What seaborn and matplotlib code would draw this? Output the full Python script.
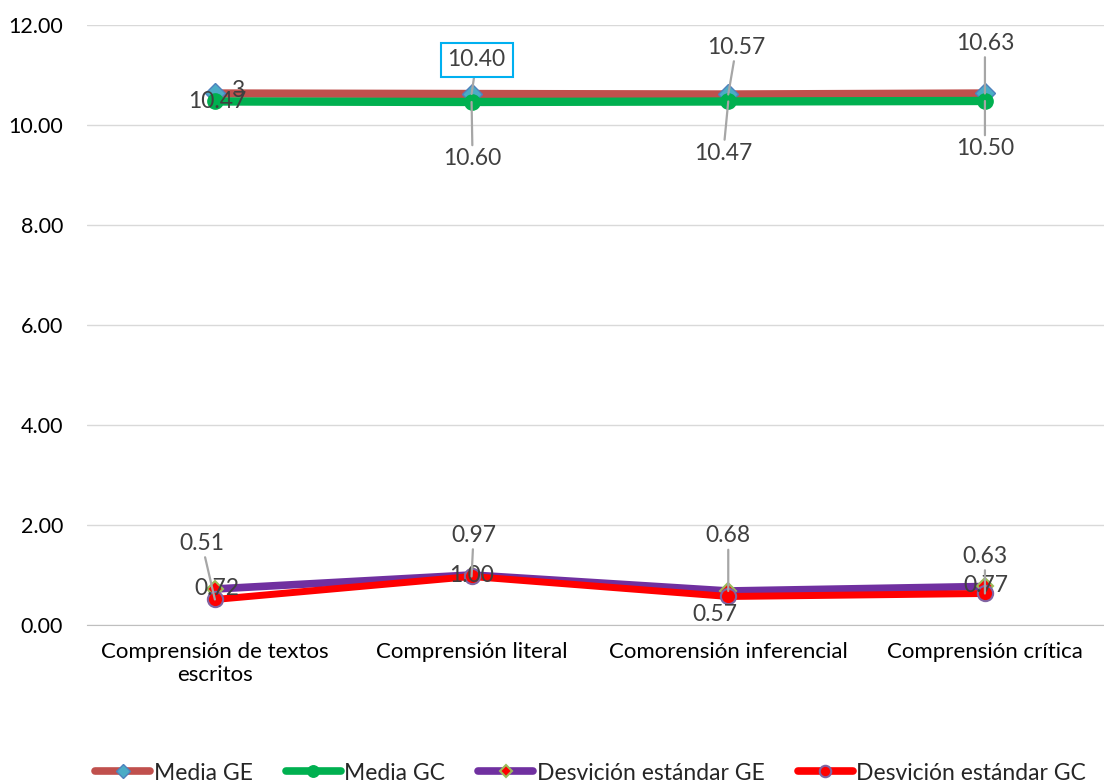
import matplotlib
matplotlib.use('Agg')
import matplotlib.pyplot as plt
import seaborn as sns
from matplotlib.lines import Line2D

# Data
categories = ['Comprensión de textos\nescritos', 'Comprensión literal',
              'Comorensión inferencial', 'Comprensión crítica']
media_ge = [10.63, 10.62, 10.61, 10.63]
media_gc = [10.47, 10.46, 10.47, 10.48]
desv_ge = [0.72, 1.00, 0.68, 0.77]
desv_gc = [0.51, 0.97, 0.57, 0.63]

# data label texts as they appear on the chart
lab_media_ge = ['3', '10.40', '10.57', '10.63']
lab_media_gc = ['10.47', '10.60', '10.47', '10.50']
lab_desv_ge = ['0.72', '1.00', '0.68', '0.77']
lab_desv_gc = ['0.51', '0.97', '0.57', '0.63']

sns.set_style('white')
plt.rcParams['font.family'] = ['Lato', 'DejaVu Sans']

fig = plt.figure(figsize=(11.04, 7.83), dpi=100)
ax = fig.add_axes([0.0784, 0.2018, 0.930, 0.7663])

series = [
    ('Media GE', media_ge, dict(color='#C0504D', lw=6, marker='D', ms=10,
                                mfc='#4BACC6', mec='#4F81BD', mew=1)),
    ('Media GC', media_gc, dict(color='#00B050', lw=6, marker='o', ms=11,
                                mfc='#00B050', mec='#00B050', mew=1)),
    ('Desvición estándar GE', desv_ge, dict(color='#7030A0', lw=5.5, marker='D', ms=8,
                                            mfc='#FF0000', mec='#9BBB59', mew=1.5)),
    ('Desvición estándar GC', desv_gc, dict(color='#FF0000', lw=5, marker='o', ms=11,
                                            mfc='#FF0000', mec='#8064A2', mew=1.5)),
]

handles = []
for i, (name, vals, st) in enumerate(series):
    sns.lineplot(x=categories, y=vals, ax=ax, sort=False, zorder=3 + i, **st)
    hst = dict(st)
    hst['ms'] = st['ms'] * 0.75
    hst['lw'] = 5.5
    handles.append(Line2D([], [], label=name, **hst))

ax.set_xlim(-0.5, 3.5)
ax.set_ylim(0, 12)
ax.set_yticks(range(0, 13, 2))
ax.set_yticklabels([f'{v:.2f}' for v in range(0, 13, 2)])
ax.yaxis.grid(True, color='#D9D9D9', lw=1)
ax.set_axisbelow(True)
for s in ['top', 'right', 'left']:
    ax.spines[s].set_visible(False)
ax.spines['bottom'].set_color('#BFBFBF')
ax.tick_params(axis='y', length=0, pad=17, labelsize=15.5, labelcolor='#000000')
ax.tick_params(axis='x', length=0, pad=12, labelsize=16, labelcolor='#000000')
ax.set_xlabel('')
ax.set_ylabel('')
if ax.get_legend():
    ax.get_legend().remove()

lead = dict(arrowstyle='-', color='#A6A6A6', lw=1.6, shrinkA=0, shrinkB=0)

# label offsets in pixels (dx, dy), leader flag
offs_media_ge = [((23, 3), False), ((5, 34), True), ((8, 47), True), ((0, 50), True)]
offs_media_gc = [((2, 0), False), ((1, -57), True), ((-5, -52), True), ((0, -48), True)]
offs_desv_ge = [((2, 0), False), ((0, -1), False), ((0, 55), True), ((1, 1), False)]
offs_desv_gc = [((-13, 56), True), ((2, 41), True), ((-13, -18), False), ((0, 37), True)]

for vals, labs, offs, z in [(media_ge, lab_media_ge, offs_media_ge, 10),
                            (media_gc, lab_media_gc, offs_media_gc, 11),
                            (desv_ge, lab_desv_ge, offs_desv_ge, 12),
                            (desv_gc, lab_desv_gc, offs_desv_gc, 13)]:
    for i, (v, t, (o, has_lead)) in enumerate(zip(vals, labs, offs)):
        kw = {}
        if has_lead:
            kw['arrowprops'] = lead
        if t == '10.40':
            kw['bbox'] = dict(boxstyle='square,pad=0.3', fc='white', ec='#00B0F0', lw=1.5)
        ax.annotate(t, xy=(i, v), xytext=o, textcoords='offset pixels',
                    ha='center', va='center', fontsize=16.5, color='#404040',
                    zorder=z, **kw)

fig.legend(handles=handles, loc='lower center', bbox_to_anchor=(0.535, -0.027),
           ncol=4, frameon=False, fontsize=16.5, handlelength=2.4,
           columnspacing=1.45, handletextpad=0.15)

fig.savefig('out.png', dpi=100)
